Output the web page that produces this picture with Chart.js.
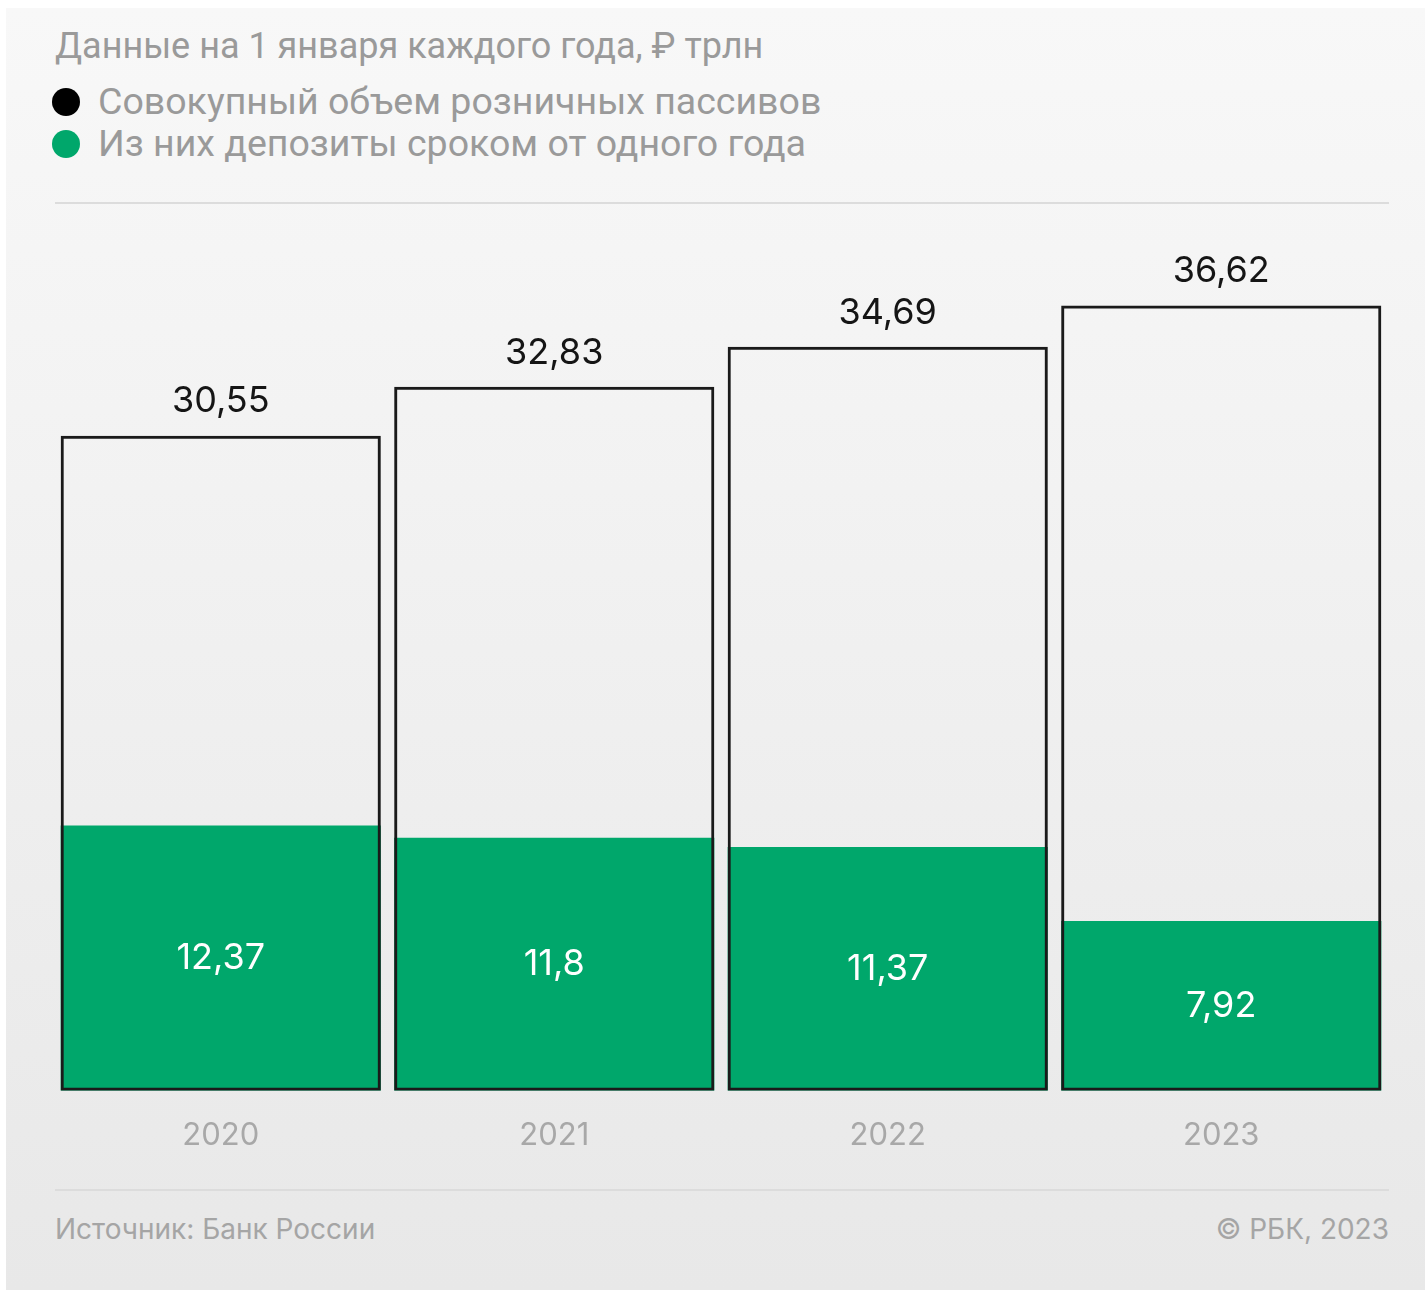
<!DOCTYPE html>
<html>
<head>
<meta charset="utf-8">
<script src="https://cdn.jsdelivr.net/npm/chart.js@4"></script>
<style>
  html, body { margin: 0; padding: 0; background: #fff; }
  body { width: 1425px; height: 1290px; position: relative; overflow: hidden; }
  #panel {
    position: absolute; left: 6px; top: 8px; right: 0; bottom: 0;
    background: linear-gradient(#f8f8f8, #e8e8e8);
  }
  .txt { position: absolute; color: #9a9a9a; white-space: nowrap; }
  #subtitle { left: 55px; top: 25px; font: 36px Roboto, sans-serif; }
  .leg { left: 52px; font: 37.5px Roboto, sans-serif; }
  .leg i { display: inline-block; width: 28px; height: 28px; border-radius: 50%; margin-right: 18px; vertical-align: -2px; }
  .rule { position: absolute; left: 55px; width: 1334px; height: 2px; background: #dcdcdc; }
  .foot { top: 1212px; font: 28px Inter, sans-serif; color: #a5a5a5; }
  canvas { position: absolute; left: 0; top: 0; }
</style>
</head>
<body>
<div id="panel"></div>
<div class="txt" id="subtitle">Данные на 1 января каждого года, ₽ трлн</div>
<div class="txt leg" style="top:79px"><i style="background:#000"></i>Совокупный объем розничных пассивов</div>
<div class="txt leg" style="top:121px"><i style="background:#00a76b"></i>Из них депозиты сроком от одного года</div>
<div class="rule" style="top:202px"></div>
<div class="rule" style="top:1189px"></div>
<div class="txt foot" style="left:55px">Источник: Банк России</div>
<div class="txt foot" style="right:36px">© РБК, 2023</div>
<canvas id="chart" width="1425" height="1290"></canvas>
<script>
const years = ['2020', '2021', '2022', '2023']
const totalLiabilities = [30.55, 32.83, 34.69, 36.62]
const longDeposits = [12.37, 11.8, 11.37, 7.92]

const fmt = v => String(v).replace('.', ',')

// value labels: totals above the outline, deposits centred in green part
const valueLabels = {
  id: 'valueLabels',
  afterDatasetsDraw(chart) {
    const ctx = chart.ctx
    ctx.save()
    ctx.textAlign = 'center'
    ctx.textBaseline = 'middle'
    ctx.font = '36px Inter, sans-serif'
    chart.getDatasetMeta(0).data.forEach((bar, i) => {
      ctx.fillStyle = '#151515'
      ctx.fillText(fmt(totalLiabilities[i]), bar.x, bar.y - 34)
    })
    chart.getDatasetMeta(1).data.forEach((bar, i) => {
      ctx.fillStyle = '#ffffff'
      ctx.fillText(fmt(longDeposits[i]), bar.x, (bar.y + bar.base) / 2)
    })
    ctx.restore()
  }
}

new Chart(document.getElementById('chart').getContext('2d'), {
  type: 'bar',
  data: {
    labels: years,
    datasets: [
      {
        label: 'Совокупный объем розничных пассивов',
        data: totalLiabilities,
        backgroundColor: 'rgba(0,0,0,0)',
        borderColor: '#1a1a1a',
        borderWidth: 3,
        borderSkipped: false,
        grouped: false,
        barPercentage: 0.96,
        categoryPercentage: 1
      },
      {
        label: 'Из них депозиты сроком от одного года',
        data: longDeposits,
        backgroundColor: '#00a76b',
        borderWidth: 0,
        grouped: false,
        barPercentage: 0.96,
        categoryPercentage: 1
      }
    ]
  },
  options: {
    responsive: false,
    animation: false,
    layout: { padding: { left: 54, right: 37, top: 233, bottom: 110 } },
    plugins: { legend: { display: false }, tooltip: { enabled: false } },
    scales: {
      x: {
        grid: { display: false, drawTicks: false },
        border: { display: false },
        ticks: { color: '#a8a8a8', font: { size: 31, family: 'Inter, sans-serif' }, padding: 26 }
      },
      y: { display: false, min: 0, max: 40 }
    }
  },
  plugins: [valueLabels]
})
</script>
</body>
</html>
